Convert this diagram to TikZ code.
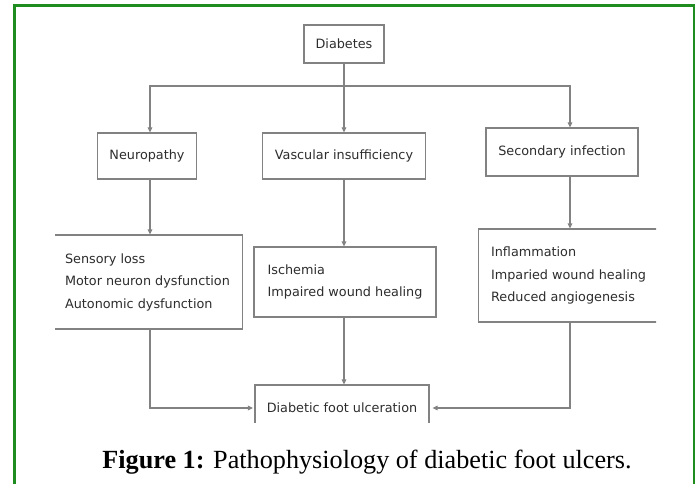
\documentclass[tikz,border=0pt]{standalone}
\usepackage{fontspec}
\setmainfont{Liberation Serif}
\newfontfamily\diafont{DejaVu Sans}
\usetikzlibrary{arrows.meta}
\definecolor{framegreen}{RGB}{30,140,30}
\definecolor{boxline}{RGB}{130,130,130}
\definecolor{diatext}{RGB}{45,45,45}
\tikzset{
  box/.style={draw=boxline, line width=1.1pt, text=diatext, font=\diafont\fontsize{12.8}{22.5}\selectfont, inner sep=0pt},
  listbox/.style={box, align=left},
  conn/.style={draw=boxline, line width=1.1pt},
  arr/.style={conn, -{Triangle[length=5pt,width=4.5pt]}},
}
\begin{document}
\begin{tikzpicture}[x=1pt,y=-1pt]
\useasboundingbox (0,0) rectangle (699,484);
\fill[white] (0,0) rectangle (699,484);
\draw[framegreen, line width=2.6pt] (14.5,490) -- (14.5,5.3) -- (694,5.3) -- (694,490);
\begin{scope}
\clip (55,23) rectangle (656,422);
\node[box, minimum width=80pt, minimum height=38pt] (diab) at (344,44) {Diabetes};
\node[box, minimum width=99pt, minimum height=46pt] (neuro) at (147,156) {Neuropathy};
\node[box, minimum width=163pt, minimum height=46pt] (vasc) at (344,156) {Vascular insufficiency};
\node[box, minimum width=152pt, minimum height=48pt] (sec) at (562,152) {Secondary infection};
\node[listbox, minimum width=190pt, minimum height=94pt, anchor=east] (lb) at (243,282)
  {Sensory loss\\Motor neuron dysfunction\\Autonomic dysfunction};
\node[listbox, minimum width=182pt, minimum height=70pt] (mb) at (345,282)
  {Ischemia\\Impaired wound healing};
\node[listbox, minimum width=180pt, minimum height=93pt, anchor=west] (rb) at (478,275.5)
  {Inflammation\\Imparied wound healing\\Reduced angiogenesis};
\node[box, minimum width=174pt, minimum height=46pt] (foot) at (342,408) {Diabetic foot ulceration};
\coordinate (bus) at (344,86);
\coordinate (colL) at (150,86);
\coordinate (colR) at (570,86);
\draw[arr] (diab.south) -- (diab.south |- vasc.north);
\draw[arr] (bus) -- (colL) -- (colL |- neuro.north);
\draw[arr] (bus) -- (colR) -- (colR |- sec.north);
\draw[arr] (colL |- neuro.south) -- (colL |- lb.north);
\draw[arr] (vasc.south) -- (vasc.south |- mb.north);
\draw[arr] (colR |- sec.south) -- (colR |- rb.north);
\draw[arr] (vasc.south |- mb.south) -- (vasc.south |- foot.north);
\draw[arr, shorten >=1.5pt] (colL |- lb.south) |- (foot.west);
\draw[arr, shorten >=3pt] (colR |- rb.south) |- (foot.east);
\end{scope}
\node[anchor=base, inner sep=0pt, font=\fontsize{26.2}{30}\selectfont] (cap) at (367,468)
  {\textbf{Figure 1:} Pathophysiology of diabetic foot ulcers.};
\end{tikzpicture}
\end{document}
